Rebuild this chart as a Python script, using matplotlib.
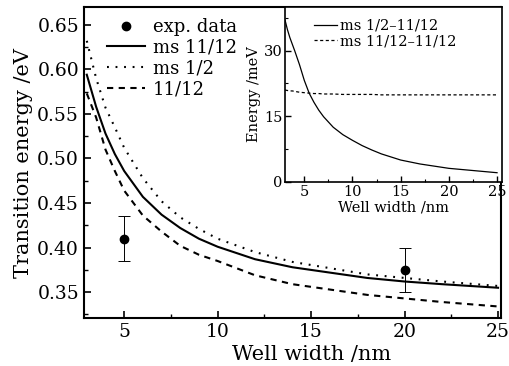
import matplotlib
matplotlib.use('Agg')
import matplotlib.pyplot as plt
from matplotlib.ticker import MultipleLocator

plt.rcParams['font.family'] = ['DejaVu Serif']
plt.rcParams['mathtext.fontset'] = 'dejavuserif'

# main panel: transition energy vs well width
width = [3, 3.5, 4, 4.5, 5, 6, 7, 8, 9, 10, 12, 14, 16, 18, 20, 22, 25]
ms_11_12 = [0.594, 0.558, 0.528, 0.505, 0.486, 0.457, 0.437, 0.422, 0.410, 0.401,
            0.387, 0.378, 0.372, 0.366, 0.362, 0.359, 0.355]
ms_1_2 = [0.632, 0.590, 0.557, 0.535, 0.512, 0.478, 0.452, 0.434, 0.421, 0.410,
          0.395, 0.384, 0.377, 0.370, 0.366, 0.362, 0.357]
plain_11_12 = [0.573, 0.546, 0.510, 0.486, 0.464, 0.436, 0.418, 0.402, 0.392, 0.385,
               0.369, 0.359, 0.353, 0.347, 0.343, 0.339, 0.334]
exp_x = [5, 20]
exp_y = [0.41, 0.375]
exp_err = [0.025, 0.025]

# inset: energy splittings
in_x = [3, 3.25, 3.5, 3.75, 4, 4.5, 5, 5.5, 6, 6.5, 7, 8, 9, 10, 11, 12, 13, 15, 17, 20, 22, 25]
split_a = [37.0, 34.8, 33.0, 31.5, 30.0, 26.8, 23.2, 20.3, 18.2, 16.4, 14.9, 12.5, 10.8,
           9.5, 8.3, 7.3, 6.4, 5.0, 4.1, 3.1, 2.7, 2.1]
split_b = [21.0, 20.9, 20.8, 20.8, 20.7, 20.5, 20.4, 20.3, 20.2, 20.2, 20.1, 20.1, 20.0,
           20.0, 20.0, 20.0, 19.9, 19.9, 19.9, 19.9, 19.9, 19.9]

fig = plt.figure(figsize=(5.09, 3.66), dpi=100)
ax = fig.add_axes([0.165, 0.131, 0.819, 0.85])

ax.errorbar(exp_x, exp_y, yerr=exp_err, fmt='o', color='black', ms=6,
            ecolor='black', elinewidth=0.7, capsize=4, capthick=0.7)
ax.plot([], [], 'o', color='black', ms=6, label='exp. data')
ax.plot(width, ms_11_12, '-', color='black', lw=1.5, label='ms 11/12')
ax.plot(width, ms_1_2, '-', color='black', lw=1.5, dashes=(0.9, 3.2), label='ms 1/2')
ax.plot(width, plain_11_12, '-', color='black', lw=1.5, dashes=(3, 2.6), label='11/12')

ax.set_xlim(2.85, 25.15)
ax.set_ylim(0.321, 0.670)
ax.xaxis.set_major_locator(MultipleLocator(5))
ax.xaxis.set_minor_locator(MultipleLocator(2.5))
ax.yaxis.set_major_locator(MultipleLocator(0.05))
ax.yaxis.set_minor_locator(MultipleLocator(0.025))
ax.yaxis.set_major_formatter(plt.FormatStrFormatter('%.2f'))
ax.tick_params(which='both', direction='in', labelsize=13.5)
ax.tick_params(which='major', length=5, width=1.2)
ax.tick_params(which='minor', length=3, width=1)
for s in ax.spines.values():
    s.set_linewidth(1.5)
ax.set_xlabel('Well width /nm', fontsize=15)
ax.xaxis.set_label_coords(0.545, -0.088)
ax.set_ylabel('Transition energy /eV', fontsize=15, labelpad=3)

ax.legend(loc='upper left', bbox_to_anchor=(0.025, 1.005), frameon=False, fontsize=13,
          handlelength=2.1, handletextpad=0.45, labelspacing=0.15, borderpad=0.2)

# inset
ins = fig.add_axes([0.56, 0.503, 0.426, 0.478])
ins.plot(in_x, split_a, '-', color='black', lw=0.9, label='ms 1/2\u201311/12')
ins.plot(in_x, split_b, '--', color='black', lw=0.9, dashes=(2.5, 2), label='ms 11/12\u201311/12')
ins.set_xlim(3, 25.5)
ins.set_ylim(0, 40)
ins.xaxis.set_major_locator(MultipleLocator(5))
ins.xaxis.set_minor_locator(MultipleLocator(2.5))
ins.yaxis.set_major_locator(MultipleLocator(15))
ins.yaxis.set_minor_locator(MultipleLocator(7.5))
ins.tick_params(which='both', direction='in', labelsize=10.5, pad=2)
ins.tick_params(which='major', length=4, width=1)
ins.tick_params(which='minor', length=2.5, width=0.8)
for s in ins.spines.values():
    s.set_linewidth(1.2)
ins.set_xlabel('Well width /nm', fontsize=10.5, labelpad=1)
ins.set_ylabel('Energy /meV', fontsize=10.5, labelpad=2)
ins.legend(loc='upper left', bbox_to_anchor=(0.08, 1.0), frameon=False, fontsize=10.5,
           handlelength=1.6, handletextpad=0.2, labelspacing=0.1, borderpad=0.3)

fig.savefig('out.png', dpi=100)
